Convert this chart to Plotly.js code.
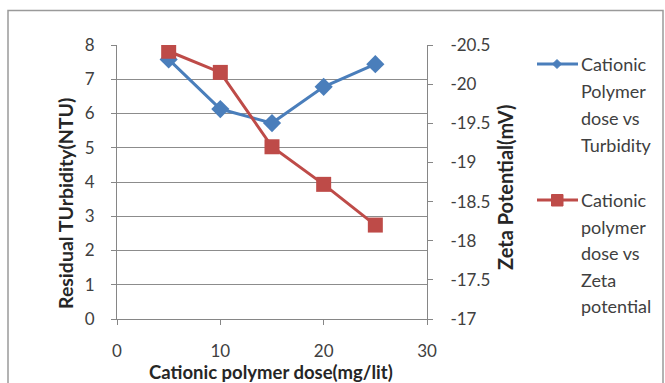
<!DOCTYPE html>
<html><head><meta charset="utf-8">
<script src="https://cdn.plot.ly/plotly-3.0.1.min.js"></script>
<style>html,body{margin:0;padding:0;background:#fff}#chart{width:665px;height:383px}</style>
</head><body><div id="chart"></div>
<script>
const doses = [5, 10, 15, 20, 25];
const turbidity = [7.58, 6.13, 5.72, 6.78, 7.44];
const zeta = [-20.42, -20.15, -19.2, -18.72, -18.2];
const xTicks = [0, 10, 20, 30];
const turbTicks = [0, 1, 2, 3, 4, 5, 6, 7, 8];
const zetaTickVals = [-17, -17.5, -18, -18.5, -19, -19.5, -20, -20.5];
const zetaTickText = ['-17', '-17.5', '-18', '-18.5', '-19', '-19.5', '-20', '-20.5'];
const legendTurb = ['Cationic', 'Polymer', 'dose vs', 'Turbidity'];
const legendZeta = ['Cationic', 'polymer', 'dose vs', 'Zeta', 'potential'];
const xTitle = 'Cationic polymer dose(mg/lit)';
const yTitle = 'Residual TUrbidity(NTU)';
const y2Title = 'Zeta Potential(mV)';

const blue = '#4A7EBB', red = '#BE4B48';
const font = 'Lato, "Open Sans", sans-serif';
const textCol = '#404040';
const titleCol = '#262626';

const traces = [
  {x: doses, y: turbidity, type: 'scatter', mode: 'lines+markers', yaxis: 'y',
   line: {color: blue, width: 3}, marker: {symbol: 'diamond', size: 14, color: blue},
   name: 'Cationic Polymer dose vs Turbidity'},
  {x: doses, y: zeta, type: 'scatter', mode: 'lines+markers', yaxis: 'y2',
   line: {color: red, width: 3}, marker: {symbol: 'square', size: 15, color: red},
   name: 'Cationic polymer dose vs Zeta potential'}
];

const W = 665, H = 383, L = 117, R = 238, T = 45, B = 64;
const PW = W - L - R, PH = H - T - B;
const px = v => (v - L) / PW, py = v => (H - B - v) / PH;

const annotations = [];
legendTurb.forEach((t, i) => annotations.push({xref: 'paper', yref: 'paper', x: px(579), y: py(64 + i * 27),
  text: t, showarrow: false, xanchor: 'left', yanchor: 'middle', font: {family: font, size: 18, color: textCol}}));
legendZeta.forEach((t, i) => annotations.push({xref: 'paper', yref: 'paper', x: px(579), y: py(200 + i * 26.5),
  text: t, showarrow: false, xanchor: 'left', yanchor: 'middle', font: {family: font, size: 18, color: textCol}}));
annotations.push({xref: 'paper', yref: 'paper', x: px(271), y: py(372), text: '<b>' + xTitle + '</b>', showarrow: false,
  xanchor: 'center', yanchor: 'middle', font: {family: font, size: 18.5, color: titleCol}});
annotations.push({xref: 'paper', yref: 'paper', x: px(65), y: py(204), text: '<b>' + yTitle + '</b>', showarrow: false,
  textangle: -90, xanchor: 'center', yanchor: 'middle', font: {family: font, size: 19.5, color: titleCol}});
annotations.push({xref: 'paper', yref: 'paper', x: px(505), y: py(188), text: '<b>' + y2Title + '</b>', showarrow: false,
  textangle: -90, xanchor: 'center', yanchor: 'middle', font: {family: font, size: 20, color: titleCol}});

const shapes = [
  {type: 'rect', xref: 'paper', yref: 'paper', x0: px(8), x1: px(663), y0: py(10.5), y1: py(395),
   line: {color: '#9a9a9a', width: 1.5}, fillcolor: 'rgba(0,0,0,0)'},
  {type: 'line', xref: 'paper', yref: 'paper', x0: px(537), x1: px(578), y0: py(64), y1: py(64), line: {color: blue, width: 3}},
  {type: 'path', xref: 'paper', yref: 'paper',
   path: `M${px(557)},${py(59.5)} L${px(561.5)},${py(64)} L${px(557)},${py(68.5)} L${px(552.5)},${py(64)} Z`,
   fillcolor: blue, line: {color: blue, width: 1}},
  {type: 'line', xref: 'paper', yref: 'paper', x0: px(537), x1: px(578), y0: py(200), y1: py(200), line: {color: red, width: 3}},
  {type: 'rect', xref: 'paper', yref: 'paper', x0: px(551.5), x1: px(563), y0: py(194.5), y1: py(206),
   fillcolor: red, line: {color: red, width: 1}}
];

const axCol = '#868686';
const layout = {
  width: W, height: H,
  margin: {l: L, r: R, t: T, b: B, pad: 0},
  paper_bgcolor: '#fff', plot_bgcolor: '#fff',
  showlegend: false,
  font: {family: font, color: textCol, size: 17},
  xaxis: {range: [0, 30], tickvals: xTicks, ticks: 'outside', ticklen: 5, tickcolor: axCol, ticklabelstandoff: 12,
    showgrid: false, zeroline: false, showline: true, linecolor: axCol, linewidth: 1,
    tickfont: {family: font, size: 17, color: textCol}},
  yaxis: {range: [0, 8], tickvals: turbTicks, ticks: 'outside', ticklen: 5, tickcolor: axCol, ticklabelstandoff: 13,
    showgrid: true, gridcolor: '#8c8c8c', gridwidth: 1, zeroline: false, showline: true, linecolor: axCol,
    tickfont: {family: font, size: 17, color: textCol}},
  yaxis2: {overlaying: 'y', side: 'right', range: [-17, -20.5], tickvals: zetaTickVals, ticktext: zetaTickText,
    ticks: 'outside', ticklen: 5, tickcolor: axCol, ticklabelstandoff: 14, showgrid: false, zeroline: false, showline: true, linecolor: axCol,
    tickfont: {family: font, size: 17, color: textCol}},
  annotations: annotations,
  shapes: shapes
};

Plotly.newPlot('chart', traces, layout, {displayModeBar: false, staticPlot: true});
</script></body></html>
